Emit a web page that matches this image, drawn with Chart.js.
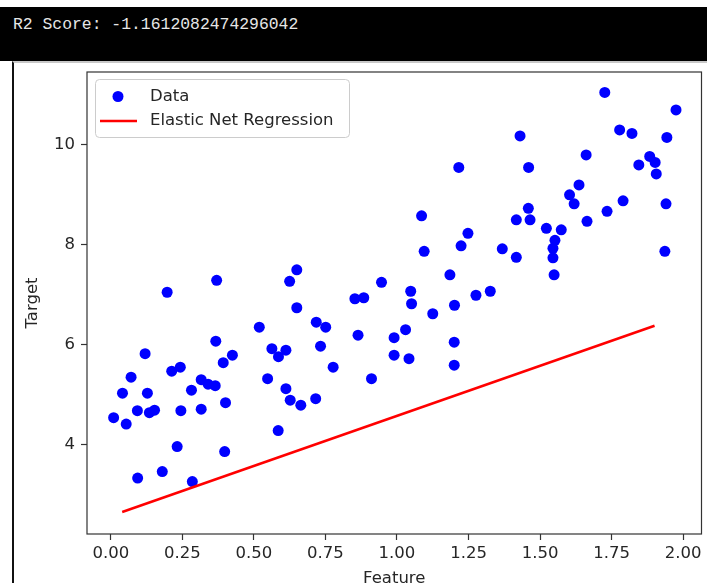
<!DOCTYPE html>
<html>
<head>
<meta charset="utf-8">
<script src="https://cdn.jsdelivr.net/npm/chart.js@4.4.1/dist/chart.umd.min.js"></script>
<style>
  html, body { margin: 0; padding: 0; background: #fff; overflow: hidden; }
  body { width: 707px; height: 583px; position: relative; }
  #bar { position: absolute; left: 0; top: 7px; width: 707px; height: 54px; background: #000; }
  #bar span { position: absolute; left: 13px; top: 9px; line-height: 18px; color: #e6e6e6;
              font-family: "Liberation Mono", monospace; font-size: 16.4px; white-space: pre; }
  #panel { position: absolute; left: 12px; top: 61px; width: 695px; height: 522px;
           border-left: 2px solid #111; border-top: 2px solid #c8c8c8; box-sizing: border-box; }
  #wrap { position: absolute; left: 0; top: 0; width: 707px; height: 610px; }
</style>
</head>
<body>
<div id="bar"><span>R2 Score: -1.1612082474296042</span></div>
<div id="panel"></div>
<div id="wrap"><canvas id="chart" width="707" height="610"></canvas></div>
<script>
// scatter data
const featureX = [
  0.010, 0.041, 0.054, 0.071, 0.093, 0.094, 0.120, 0.128, 0.135, 0.153,
  0.180, 0.197, 0.213, 0.243, 0.245, 0.232, 0.282, 0.285, 0.316, 0.340,
  0.365, 0.316, 0.370, 0.367, 0.393, 0.425, 0.401, 0.398, 0.519, 0.563,
  0.586, 0.612, 0.548, 0.612, 0.627, 0.664, 0.585, 0.625, 0.650, 0.650,
  0.716, 0.718, 0.751, 0.733, 0.777, 0.853, 0.884, 0.864, 0.911, 0.946,
  0.990, 0.990, 1.030, 1.042, 1.048, 1.051, 1.125, 1.185, 1.201, 1.200,
  1.200, 1.276, 1.326, 1.086, 1.095, 1.248, 1.224, 1.216, 1.368, 1.417,
  1.417, 1.459, 1.465, 1.430, 1.460, 1.522, 1.574, 1.552, 1.545, 1.545,
  1.549, 1.603, 1.619, 1.636, 1.661, 1.664, 1.734, 1.790, 1.726, 1.778,
  1.821, 1.845, 1.883, 1.902, 1.906, 1.940, 1.943, 1.975, 1.936
];
const targetY = [
  4.54, 5.03, 4.41, 5.35, 4.68, 3.33, 5.82, 5.03, 4.64, 4.69,
  3.46, 7.05, 5.47, 5.55, 4.68, 3.96, 5.09, 3.26, 5.30, 5.21,
  5.18, 4.71, 7.29, 6.07, 5.64, 5.79, 4.84, 3.86, 6.35, 5.92,
  5.76, 5.89, 5.32, 5.12, 4.89, 4.79, 4.28, 7.27, 7.50, 6.74,
  4.92, 6.45, 6.35, 5.97, 5.55, 6.92, 6.94, 6.19, 5.32, 7.25,
  6.14, 5.79, 6.30, 5.72, 7.07, 6.82, 6.62, 7.40, 6.79, 6.05,
  5.59, 6.99, 7.07, 8.58, 7.87, 8.23, 7.98, 9.55, 7.92, 7.75,
  8.50, 8.73, 8.50, 10.18, 9.55, 8.33, 8.30, 8.09, 7.93, 7.74,
  7.40, 9.00, 8.82, 9.20, 9.80, 8.47, 8.67, 8.88, 11.05, 10.30,
  10.23, 9.60, 9.77, 9.65, 9.42, 8.82, 10.15, 10.70, 7.87
];
// fitted line (ends of the test range)
const fitX = [0.04, 1.90];
const fitY = [2.65, 6.38];

const xTicks = [0, 0.25, 0.5, 0.75, 1, 1.25, 1.5, 1.75, 2];
const yTicks = [4, 6, 8, 10];

const ink = '#262626';
const fontSize = 16.5;
Chart.defaults.font.family = '"DejaVu Sans", sans-serif';
Chart.defaults.font.size = fontSize;

const frame = {
  id: 'frame',
  afterDatasetsDraw(chart) {
    const a = chart.chartArea, ctx = chart.ctx;
    ctx.save();
    ctx.strokeStyle = '#333';
    ctx.lineWidth = 1.2;
    ctx.strokeRect(a.left, a.top, a.right - a.left, a.bottom - a.top);
    ctx.restore();
  }
};

const legendBox = {
  id: 'legendBox',
  afterDraw(chart) {
    const ctx = chart.ctx, a = chart.chartArea;
    const x0 = a.left + 8, y0 = a.top + 7;
    ctx.save();
    ctx.fillStyle = 'rgba(255,255,255,0.8)';
    ctx.strokeStyle = '#cccccc';
    ctx.lineWidth = 1;
    ctx.beginPath();
    ctx.roundRect(x0 + 0.5, y0 + 0.5, 254, 58, 4);
    ctx.fill();
    ctx.stroke();
    ctx.font = fontSize + 'px "DejaVu Sans"';
    ctx.textBaseline = 'middle';
    chart.data.datasets.forEach((ds, i) => {
      const cy = y0 + 17.5 + i * 24.5;
      if (ds.showLine) {
        ctx.strokeStyle = ds.borderColor;
        ctx.lineWidth = ds.borderWidth;
        ctx.beginPath();
        ctx.moveTo(x0 + 5, cy);
        ctx.lineTo(x0 + 42, cy);
        ctx.stroke();
      } else {
        ctx.fillStyle = ds.backgroundColor;
        ctx.beginPath();
        ctx.arc(x0 + 23, cy, ds.pointRadius, 0, Math.PI * 2);
        ctx.fill();
      }
      ctx.fillStyle = ink;
      ctx.fillText(ds.label, x0 + 55, cy);
    });
    ctx.restore();
  }
};

const tickGrid = { drawOnChartArea: false, drawTicks: true, tickLength: 6, tickColor: '#333', tickWidth: 1.2 };

new Chart(document.getElementById('chart'), {
  type: 'scatter',
  data: {
    datasets: [{
      label: 'Data',
      data: featureX.map((x, i) => ({ x: x, y: targetY[i] })),
      backgroundColor: '#0000ff',
      borderWidth: 0,
      pointRadius: 5.5,
      pointHoverRadius: 5.5,
      showLine: false,
      order: 1
    }, {
      label: 'Elastic Net Regression',
      data: fitX.map((x, i) => ({ x: x, y: fitY[i] })),
      borderColor: '#ff0000',
      borderWidth: 2.5,
      pointRadius: 0,
      showLine: true,
      order: 0
    }]
  },
  options: {
    responsive: false,
    animation: false,
    events: [],
    layout: { padding: { left: 0, top: 72, right: 2, bottom: 0 } },
    plugins: { legend: { display: false }, tooltip: { enabled: false } },
    scales: {
      x: {
        type: 'linear',
        min: -0.083,
        max: 2.064,
        afterBuildTicks: axis => { axis.ticks = xTicks.map(v => ({ value: v })); },
        afterFit: scale => { scale.height = 76; },
        grid: tickGrid,
        border: { display: false },
        ticks: { padding: 4, color: ink, maxRotation: 0, autoSkip: false,
                 callback: v => Number(v).toFixed(2) },
        title: { display: true, text: 'Feature', color: ink, padding: { top: 0, bottom: 21 } }
      },
      y: {
        type: 'linear',
        min: 2.21,
        max: 11.46,
        afterBuildTicks: axis => { axis.ticks = yTicks.map(v => ({ value: v })); },
        afterFit: scale => { scale.width = 87; },
        grid: tickGrid,
        border: { display: false },
        ticks: { padding: 6, color: ink, autoSkip: false, callback: v => String(v) },
        title: { display: true, text: 'Target', color: ink, padding: { top: 23, bottom: 0 } }
      }
    }
  },
  plugins: [frame, legendBox]
});
</script>
</body>
</html>
